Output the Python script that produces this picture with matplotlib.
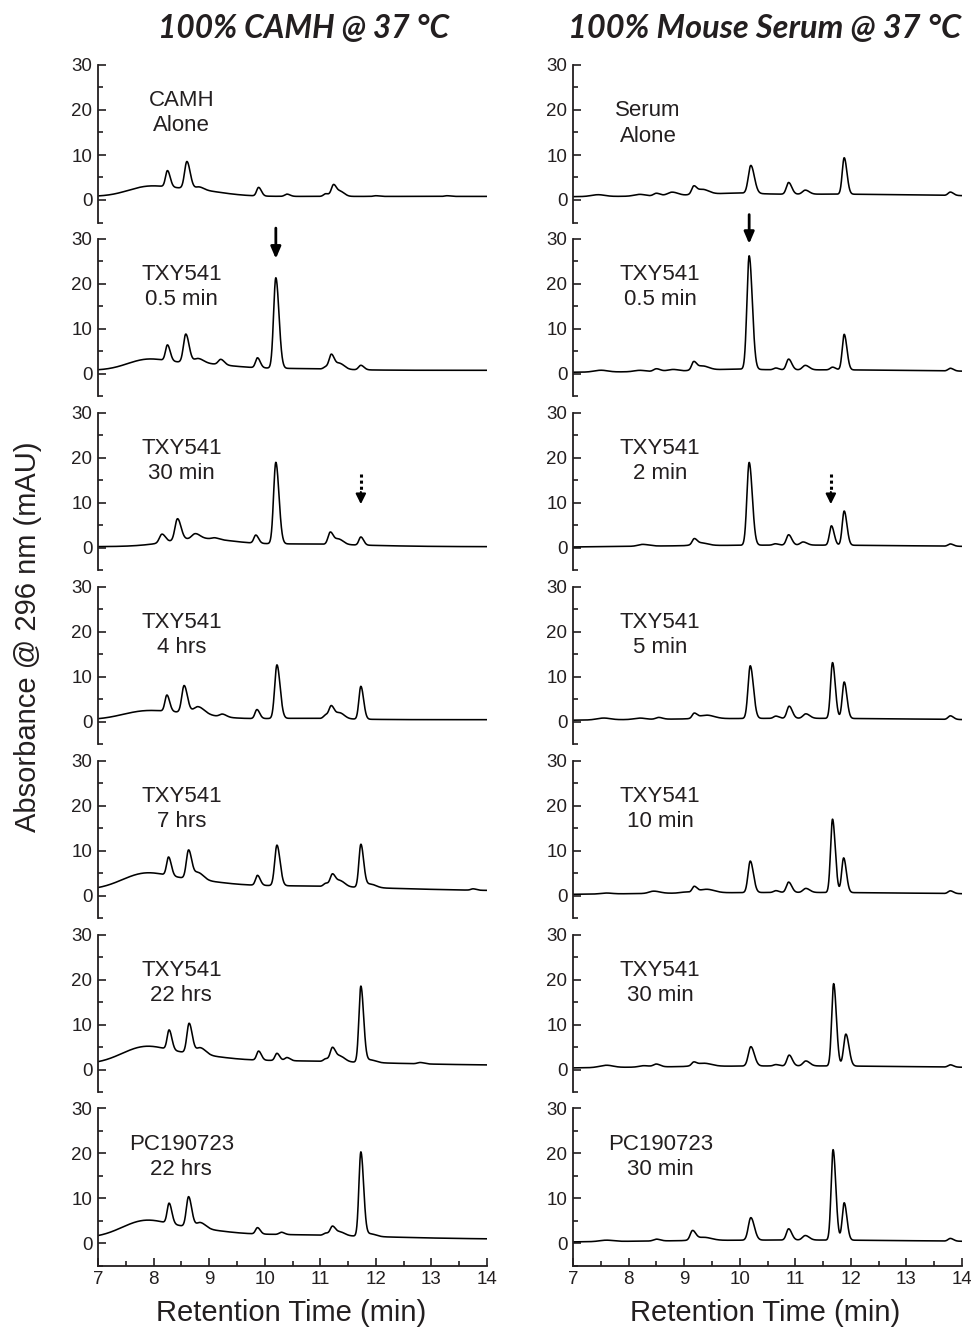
import numpy as np
import matplotlib.pyplot as plt

plt.rcParams['font.family'] = ['Liberation Sans', 'DejaVu Sans']
ink = '#231f20'

# retention time axis (min)
rt = np.linspace(7, 14, 3501)

# trace components:
# (retention time min, height above offset mAU, width min); offsets in mAU
camh_alone_off = 0.8
camh_alone = [(7.85, 1.6, 0.35), (8.6, 1.6, 0.55),
              (8.25, 3.6, 0.035), (8.6, 6.0, 0.042), (8.82, 0.6, 0.06),
              (9.89, 1.9, 0.035), (10.4, 0.5, 0.04),
              (11.1, 0.6, 0.04), (11.24, 2.6, 0.04), (11.37, 1.0, 0.05),
              (12.0, 0.15, 0.04), (13.28, 0.15, 0.04)]

camh_05_off = 0.8
camh_05 = [(7.85, 1.9, 0.35), (8.7, 1.5, 0.6), (10.3, 0.4, 0.9),
           (8.25, 3.5, 0.035), (8.58, 6.3, 0.042), (8.8, 1.0, 0.07),
           (9.21, 1.2, 0.045), (9.87, 2.2, 0.035), (10.2, 20.1, 0.04),
           (11.1, 0.5, 0.04), (11.2, 3.2, 0.04), (11.35, 1.3, 0.06), (11.73, 1.0, 0.04)]

camh_30_off = 0.25
camh_30 = [(8.8, 1.6, 0.55), (10.5, 0.6, 1.2),
           (8.15, 1.9, 0.045), (8.43, 4.8, 0.045), (8.75, 1.1, 0.06), (9.1, 0.3, 0.05),
           (9.84, 1.8, 0.035), (10.2, 18.1, 0.04),
           (11.18, 2.7, 0.04), (11.33, 1.2, 0.06), (11.73, 1.8, 0.035)]

camh_4h_off = 0.45
camh_4h = [(7.8, 1.6, 0.4), (8.6, 1.3, 0.5), (10.6, 0.3, 0.8),
           (8.24, 3.6, 0.035), (8.55, 6.0, 0.042), (8.8, 1.6, 0.08), (9.24, 0.6, 0.05),
           (9.86, 2.0, 0.035), (10.22, 11.9, 0.04),
           (11.1, 0.8, 0.04), (11.2, 2.7, 0.04), (11.35, 1.3, 0.06), (11.73, 7.3, 0.035)]

camh_7h_off = 1.0
camh_7h = [(7.8, 2.8, 0.4), (8.6, 1.5, 0.55), (10.0, 1.2, 2.0),
           (8.27, 4.1, 0.035), (8.63, 6.3, 0.04), (8.8, 1.6, 0.07),
           (9.87, 2.2, 0.035), (10.22, 9.0, 0.04),
           (11.1, 0.7, 0.04), (11.22, 2.7, 0.04), (11.36, 1.3, 0.06),
           (11.73, 9.4, 0.035), (11.9, 0.8, 0.1), (13.75, 0.3, 0.04)]

camh_22h_off = 0.9
camh_22h = [(7.8, 3.0, 0.4), (8.6, 1.5, 0.55), (9.8, 1.1, 2.0),
            (8.28, 4.35, 0.035), (8.64, 6.6, 0.04), (8.84, 1.5, 0.07),
            (9.89, 2.0, 0.035), (10.22, 1.6, 0.035), (10.4, 0.7, 0.04),
            (11.1, 0.6, 0.04), (11.22, 3.05, 0.04), (11.36, 1.2, 0.06),
            (11.73, 16.8, 0.035), (11.9, 0.6, 0.1), (12.8, 0.3, 0.05)]

pc_22h_off = 0.9
pc_22h = [(7.8, 3.0, 0.4), (8.6, 1.5, 0.55), (9.8, 1.1, 2.0),
          (8.28, 4.5, 0.035), (8.63, 6.7, 0.04), (8.84, 1.3, 0.07),
          (9.87, 1.4, 0.035), (10.3, 0.5, 0.04),
          (11.1, 0.5, 0.04), (11.22, 2.0, 0.04), (11.36, 0.8, 0.06),
          (11.73, 18.6, 0.035), (11.9, 0.6, 0.1)]

serum_alone_off = 0.7
serum_alone = [(11.5, 0.6, 2.0), (9.9, 0.4, 0.4),
               (7.45, 0.4, 0.12), (8.2, 0.4, 0.1), (8.5, 0.6, 0.05), (8.78, 0.8, 0.08),
               (9.32, 1.2, 0.12), (9.17, 1.5, 0.035),
               (10.2, 6.2, 0.045), (10.88, 2.6, 0.04), (11.18, 0.9, 0.05),
               (11.88, 8.1, 0.035), (13.79, 0.75, 0.04)]

serum_05_off = 0.3
serum_05 = [(11.5, 0.6, 2.2), (9.9, 0.3, 0.4),
            (7.5, 0.4, 0.12), (8.2, 0.3, 0.1), (8.5, 0.6, 0.05), (8.8, 0.4, 0.1),
            (9.32, 1.0, 0.12), (9.17, 1.6, 0.035),
            (10.17, 25.2, 0.04), (10.65, 0.4, 0.04), (10.88, 2.4, 0.04), (11.18, 1.0, 0.05),
            (11.67, 0.6, 0.04), (11.88, 7.9, 0.035), (13.79, 0.6, 0.04)]

serum_2_off = -0.1
serum_2 = [(11.0, 0.7, 3.0),
           (8.25, 0.4, 0.08), (9.3, 0.6, 0.12), (9.18, 1.2, 0.035),
           (10.17, 18.4, 0.04), (10.64, 0.3, 0.04), (10.88, 2.3, 0.04), (11.14, 0.7, 0.05),
           (11.65, 4.3, 0.035), (11.88, 7.6, 0.035), (13.79, 0.5, 0.04)]

serum_5_off = 0.05
serum_5 = [(11.0, 0.7, 3.0),
           (7.55, 0.4, 0.12), (8.2, 0.3, 0.1), (8.54, 0.4, 0.05),
           (9.4, 0.8, 0.14), (9.18, 1.05, 0.035),
           (10.19, 11.7, 0.04), (10.65, 0.5, 0.04), (10.89, 2.7, 0.04), (11.19, 1.0, 0.05),
           (11.67, 12.4, 0.035), (11.88, 8.1, 0.035), (13.79, 0.8, 0.04)]

serum_10_off = 0.0
serum_10 = [(11.0, 0.7, 3.0),
            (7.6, 0.2, 0.1), (8.45, 0.5, 0.08), (9.0, 0.2, 0.08),
            (9.4, 0.8, 0.14), (9.18, 1.2, 0.035),
            (10.19, 7.0, 0.04), (10.65, 0.4, 0.04), (10.88, 2.3, 0.04), (11.19, 0.9, 0.05),
            (11.67, 16.3, 0.035), (11.87, 7.7, 0.035), (13.79, 0.6, 0.04)]

serum_30_off = 0.05
serum_30 = [(11.0, 0.75, 3.0),
            (7.6, 0.5, 0.12), (8.27, 0.3, 0.08), (8.5, 0.6, 0.05),
            (9.35, 0.7, 0.14), (9.17, 0.7, 0.035),
            (10.2, 4.3, 0.045), (10.65, 0.3, 0.04), (10.89, 2.4, 0.04), (11.19, 1.1, 0.05),
            (11.69, 18.3, 0.035), (11.91, 7.1, 0.04), (13.79, 0.5, 0.04)]

pc_30_off = 0.05
pc_30 = [(11.0, 0.7, 3.0),
         (7.6, 0.3, 0.12), (8.5, 0.4, 0.05),
         (9.35, 0.7, 0.14), (9.15, 2.0, 0.04),
         (10.2, 5.0, 0.045), (10.88, 2.5, 0.04), (11.18, 1.0, 0.05),
         (11.68, 20.1, 0.035), (11.88, 8.3, 0.035), (13.79, 0.6, 0.04)]

camh_runs = [(camh_alone_off, camh_alone), (camh_05_off, camh_05), (camh_30_off, camh_30),
             (camh_4h_off, camh_4h), (camh_7h_off, camh_7h), (camh_22h_off, camh_22h),
             (pc_22h_off, pc_22h)]
serum_runs = [(serum_alone_off, serum_alone), (serum_05_off, serum_05), (serum_2_off, serum_2),
              (serum_5_off, serum_5), (serum_10_off, serum_10), (serum_30_off, serum_30),
              (pc_30_off, pc_30)]

camh_labels = ["CAMH\nAlone", "TXY541\n0.5 min", "TXY541\n30 min", "TXY541\n4 hrs",
               "TXY541\n7 hrs", "TXY541\n22 hrs", "PC190723\n22 hrs"]
serum_labels = ["Serum\nAlone", "TXY541\n0.5 min", "TXY541\n2 min", "TXY541\n5 min",
                "TXY541\n10 min", "TXY541\n30 min", "PC190723\n30 min"]

column_titles = ["100% CAMH @ 37 °C", "100% Mouse Serum @ 37 °C"]

# TXY541 peak (solid) and product peak (dotted), (row, retention time)
parent_arrows = [(1, 10.2), (1, 10.17)]
product_arrows = [(2, 11.73), (2, 11.64)]


def trace(off, comps):
    y = np.full_like(rt, off)
    for c, h, w in comps:
        if w < 0.1:
            s = np.where(rt < c, w, w * 1.4)
        else:
            s = w
        y = y + h * np.exp(-0.5 * ((rt - c) / s) ** 2)
    return y


W, H = 971, 1331
fig = plt.figure(figsize=(W / 100, H / 100), dpi=100)

col_left = [98, 573]
ax_w = 389
axes = [[None] * 7, [None] * 7]
for col, (runs, labels) in enumerate([(camh_runs, camh_labels), (serum_runs, serum_labels)]):
    for i in range(7):
        y0 = 200 + 173.9 * i
        bottom = 1 - (y0 + 22.5) / H
        ax = fig.add_axes([col_left[col] / W, bottom, ax_w / W, 157.5 / H])
        off, comps = runs[i]
        ax.plot(rt, trace(off, comps), color='black', lw=1.15)
        ax.set_xlim(7, 14)
        ax.set_ylim(-5, 30)
        ax.set_yticks([0, 10, 20, 30])
        ax.set_yticks([-5, 5, 15, 25], minor=True)
        ax.tick_params(axis='y', which='major', direction='in', length=6, width=1.2,
                       labelsize=13.5, colors=ink, pad=4)
        ax.tick_params(axis='y', which='minor', direction='in', length=3.5, width=1.2, colors=ink)
        for s in ['top', 'right']:
            ax.spines[s].set_visible(False)
        ax.spines['left'].set_linewidth(1.3)
        ax.spines['left'].set_color(ink)
        ax.patch.set_visible(False)
        if i < 6:
            ax.spines['bottom'].set_visible(False)
            ax.set_xticks([])
        else:
            ax.spines['bottom'].set_linewidth(1.3)
            ax.spines['bottom'].set_color(ink)
            ax.set_xticks(range(7, 15))
            ax.set_xticks(np.arange(7.5, 14, 1.0), minor=True)
            ax.tick_params(axis='x', which='major', direction='in', length=6, width=1.2,
                           labelsize=13.5, colors=ink, pad=4)
            ax.tick_params(axis='x', which='minor', direction='in', length=3.5, width=1.2, colors=ink)
        lx = 8.5 if col == 0 else 8.57
        ly = 19.3
        if col == 1 and i == 0:
            lx, ly = 8.35, 17.0
        ax.text(lx, ly, labels[i], ha='center', va='center', fontsize=16,
                color=ink, linespacing=1.25)
        axes[col][i] = ax

# arrows marking parent (solid) and product (dotted) peaks
for col, (row, x) in enumerate(parent_arrows):
    ax = axes[col][row]
    top, tip = (32.4, 25.6) if col == 0 else (35.4, 28.9)
    ax.annotate('', xy=(x, tip), xytext=(x, top), annotation_clip=False,
                arrowprops=dict(arrowstyle='-|>,head_length=0.7,head_width=0.3',
                                color='black', lw=2, shrinkA=0, shrinkB=0))
for col, (row, x) in enumerate(product_arrows):
    ax = axes[col][row]
    ax.plot([x, x], [16.4, 12.3], color='black', lw=2.2, ls=(0, (1, 1)), clip_on=False)
    ax.annotate('', xy=(x, 9.7), xytext=(x, 12.4), annotation_clip=False,
                arrowprops=dict(arrowstyle='-|>,head_length=0.6,head_width=0.3',
                                color='black', lw=1.5, shrinkA=0, shrinkB=0))

fig.text(304 / W, 1 - 29 / H, column_titles[0], ha='center', va='center', fontsize=22.8,
         fontweight='bold', fontstyle='italic', family=['Lato', 'DejaVu Sans'], color=ink)
fig.text(765 / W, 1 - 29 / H, column_titles[1], ha='center', va='center', fontsize=23.4,
         fontweight='bold', fontstyle='italic', family=['Lato', 'DejaVu Sans'], color=ink)

fig.text(28 / W, 1 - 637 / H, "Absorbance @ 296 nm (mAU)", rotation=90, ha='center',
         va='center', fontsize=21, color=ink)
fig.text(291 / W, 1 - 1313 / H, "Retention Time (min)", ha='center', va='center',
         fontsize=21, color=ink)
fig.text(765 / W, 1 - 1313 / H, "Retention Time (min)", ha='center', va='center',
         fontsize=21, color=ink)

fig.savefig('out.png', dpi=100)
